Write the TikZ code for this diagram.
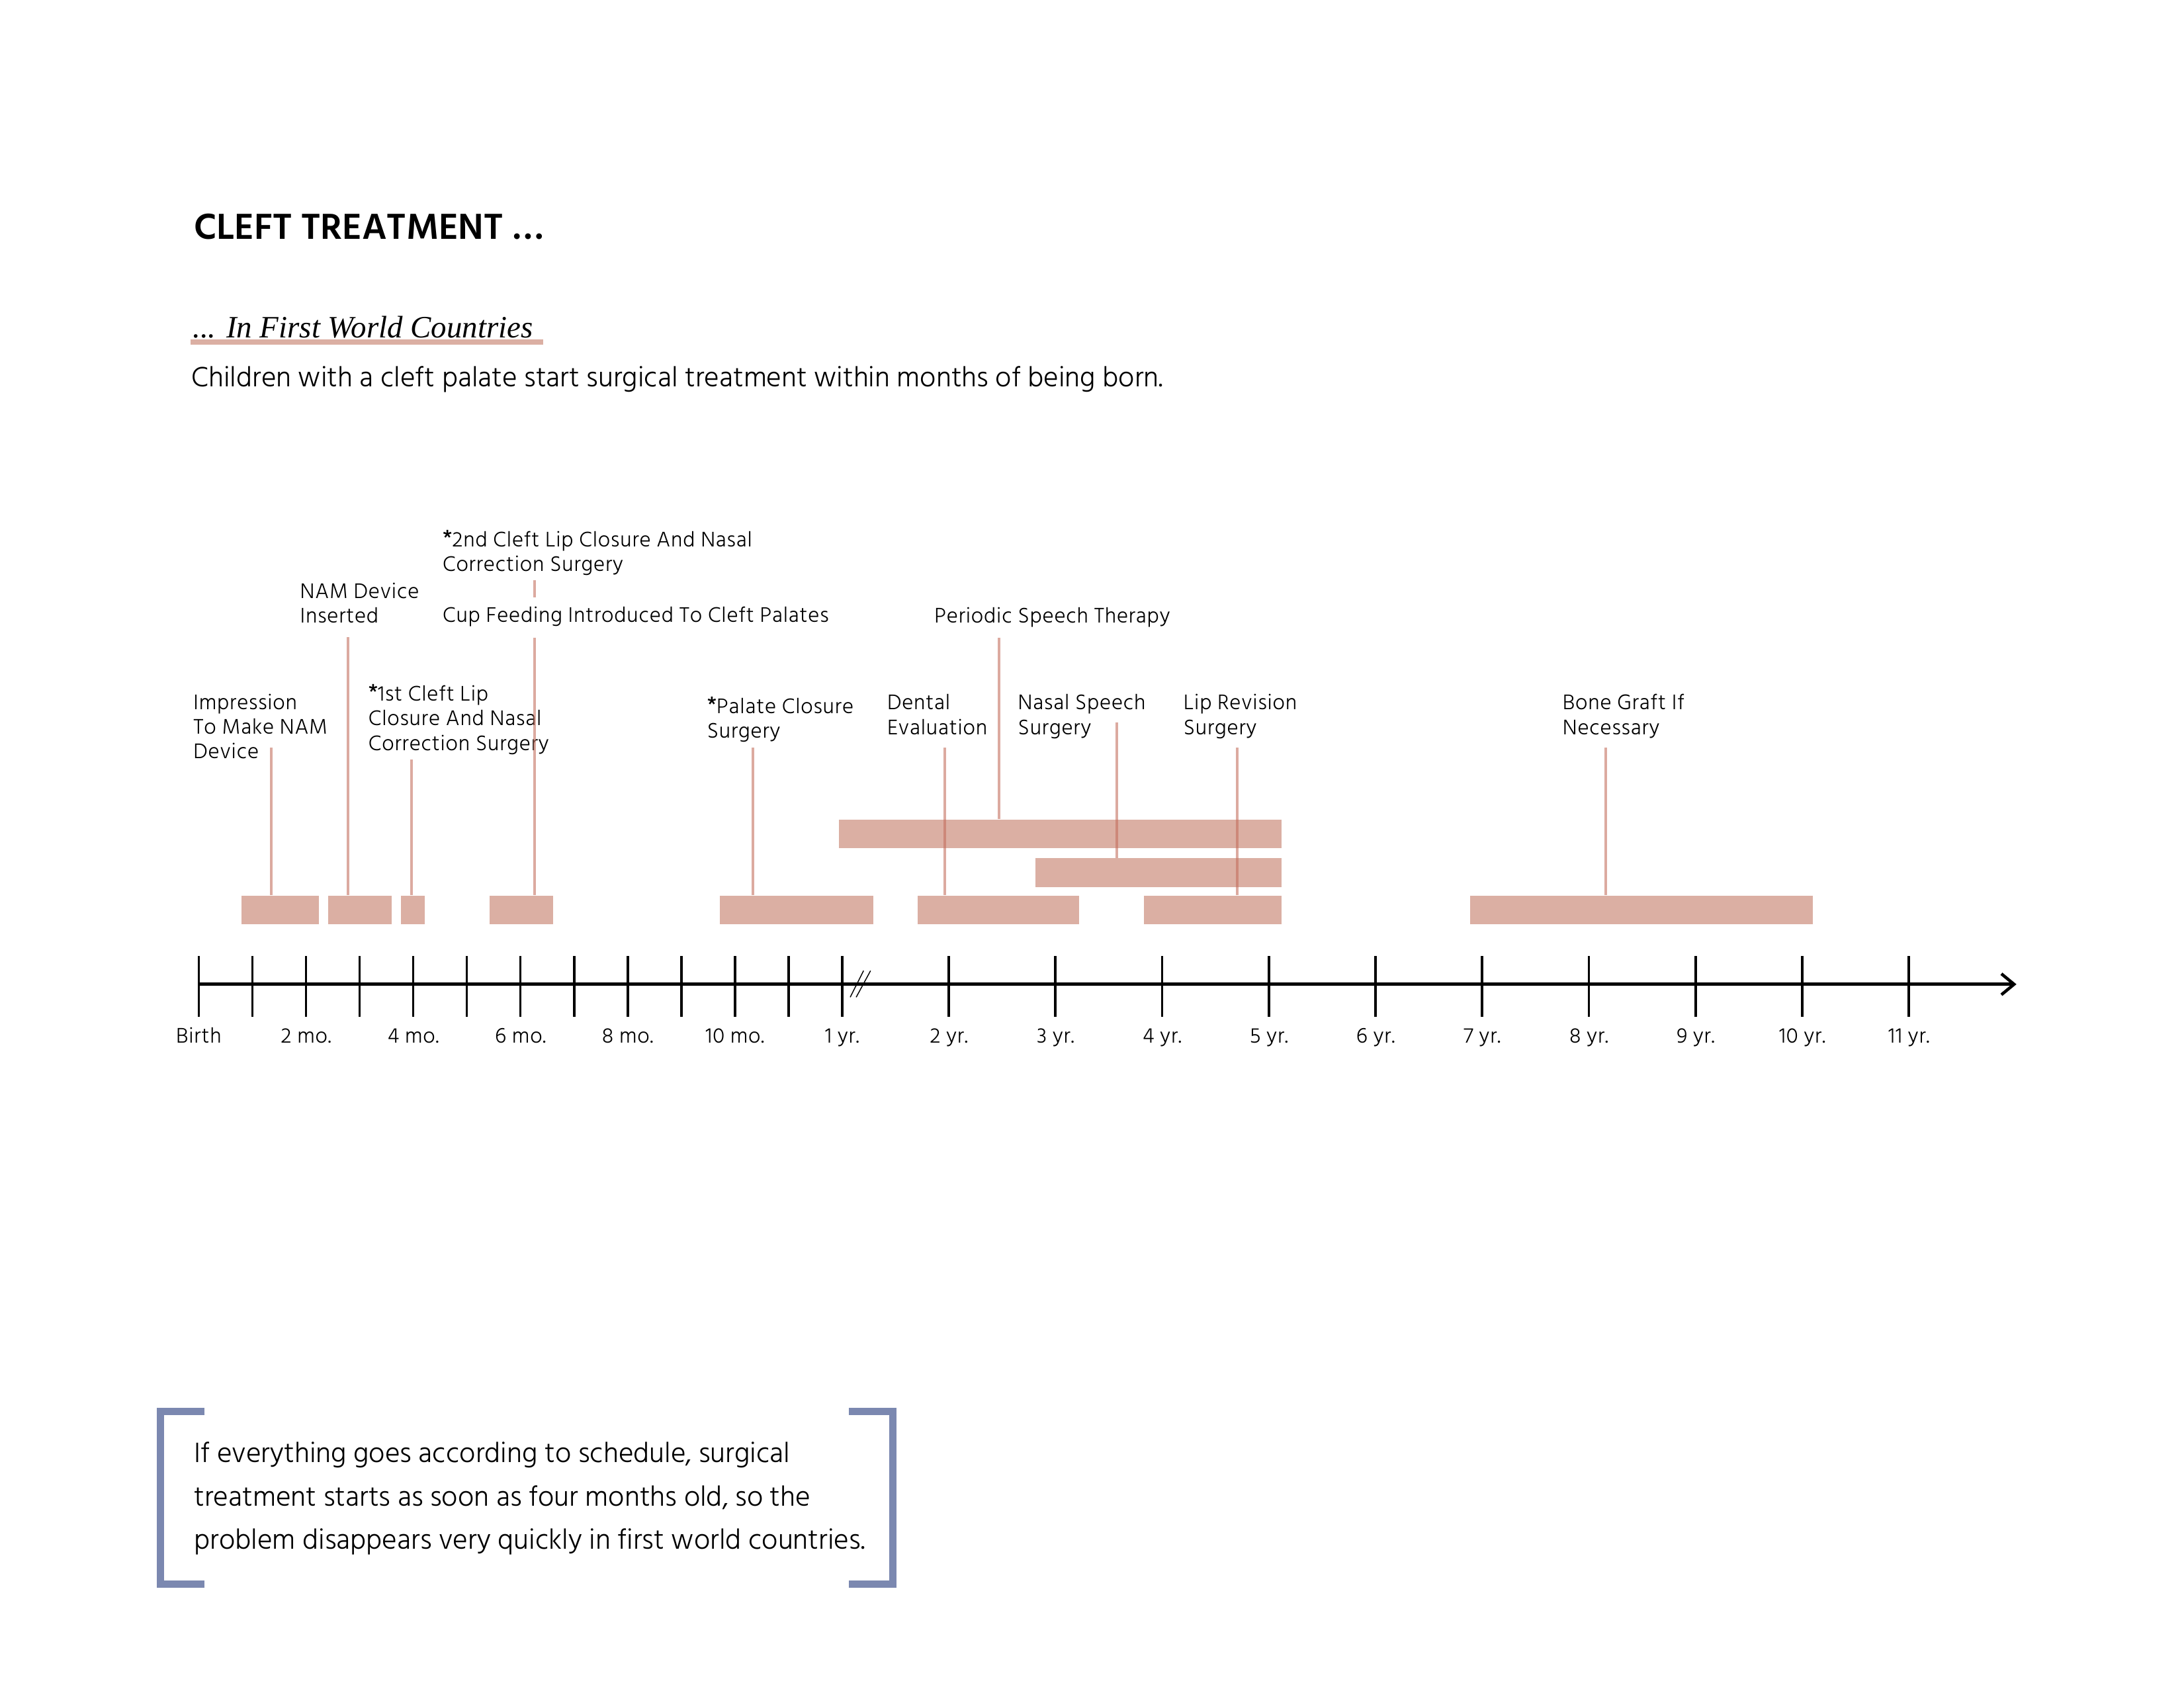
\documentclass[tikz,border=0pt]{standalone}
\usepackage{fontspec}
\IfFontExistsTF{Hind Madurai Light}
  {\setmainfont{Hind Madurai}[UprightFont=* Light,BoldFont=* SemiBold]
   \newfontfamily\labfont{Hind Madurai}[UprightFont=* Light,LetterSpace=2.5]}
  {\setmainfont{Hind Madurai}
   \newfontfamily\labfont{Hind Madurai}[LetterSpace=2]}
\newfontfamily\serifit{Liberation Serif}
\usepackage{tikz}
\usetikzlibrary{arrows.meta,fit}

\definecolor{barpink}{HTML}{DBAFA3}
\definecolor{linkred}{HTML}{C36D5B}
\definecolor{slate}{HTML}{7B88B0}

\newcommand\opstar{\raisebox{0.6bp}{\bfseries*}}
\newcommand\tlbar[4]{\node[bar, fit={(#2,#4) (#3,{#4+20.5})}] (#1) {};}

\begin{document}
\begin{tikzpicture}[x=0.5051bp,y=-0.5051bp,
  bar/.style={fill=barpink,inner sep=0pt},
  link/.style={draw=linkred,draw opacity=0.58,line width=0.95bp},
  tick/.style={line width=0.9bp},
  lab/.style={anchor=base west,align=left,inner sep=0pt,font=\labfont\fontsize{7.9}{9}\selectfont},
  ticklab/.style={anchor=base,inner sep=0pt,font=\labfont\fontsize{7.9}{9}\selectfont}]
  \useasboundingbox (0,0) rectangle (1568,1211);

  \node[anchor=base west,inner sep=0pt,font=\fontsize{13.5}{15}\selectfont\bfseries] (title) at (139,171.8) {CLEFT TREATMENT …};
  \node[anchor=base west,inner sep=0pt,font=\serifit\itshape\fontsize{11.3}{13}\selectfont] (sub) at (138,242.3) {... In First World Countries};
  \draw[barpink,line width=1.8bp] (137,245.6) -- (390,245.6);
  \node[anchor=base west,inner sep=0pt,font=\fontsize{10.43}{12}\selectfont] (intro) at (137.1,277.4) {Children with a cleft palate start surgical treatment within months of being born.};

  % multi-line labels sit on the baseline of their last line
  \node[lab] (lImp) at (138.5,544.8) {Impression\\To Make NAM\\Device};
  \node[lab] (lNam) at (215.1,447.2) {NAM Device\\Inserted};
  \node[lab] (lFirst) at (264.1,538.7) {\opstar1st Cleft Lip\\Closure And Nasal\\Correction Surgery};
  \node[lab] (lSecond) at (317.4,410.2) {\opstar2nd Cleft Lip Closure And Nasal\\Correction Surgery};
  \node[lab] (lCup) at (317.4,446.6) {Cup Feeding Introduced To Cleft Palates};
  \node[lab] (lPal) at (507.3,529.9) {\opstar Palate Closure\\Surgery};
  \node[lab] (lDen) at (636.6,527.3) {Dental\\Evaluation};
  \node[lab] (lPer) at (670.5,447.4) {Periodic Speech Therapy};
  \node[lab] (lNas) at (730.5,527.3) {Nasal Speech\\Surgery};
  \node[lab] (lLip) at (849.3,527.3) {Lip Revision\\Surgery};
  \node[lab] (lBon) at (1121.5,527.3) {Bone Graft If\\Necessary};

  \tlbar{bImp}{173.4}{228.8}{643.2}
  \tlbar{bNam}{235.8}{281.4}{643.2}
  \tlbar{bFirst}{287.9}{304.8}{643.2}
  \tlbar{bCup}{351.5}{397}{643.2}
  \tlbar{bPal}{517}{626.9}{643.2}
  \tlbar{bDen}{659}{774.6}{643.2}
  \tlbar{bLip}{821.5}{919.9}{643.2}
  \tlbar{bBon}{1055.4}{1301.5}{643.2}
  \tlbar{bNas}{743.4}{919.9}{616.3}
  \tlbar{bPer}{602.3}{919.9}{588.3}

  \foreach \c/\x/\y in {Imp/194.6/536.8,Nam/249.7/457.6,First/295.3/545.5,Cup/383.7/457.9,Pal/540.6/536.8,
      Den/678.5/536.8,Per/717.3/457.9,Nas/801.7/518.9,Lip/888.1/536.8,Bon/1152.9/536.8}
    {\coordinate (t\c) at (\x,\y);
     \draw[link] (t\c) -- (t\c |- b\c.north);}
  \coordinate (tCupA) at (383.7,416.4);
  \coordinate (tCupB) at (383.7,428.8);
  \draw[link] (tCupA) -- (tCupB);

  \coordinate (ax0) at (142.7,706.7);
  \coordinate (ax1) at (1447.7,706.7);
  \draw[line width=1.1bp,-{Straight Barb[length=4.6bp,width=7.6bp]}] (ax0) -- (ax1);
  \foreach \m in {0,...,12} \draw[tick] ({142.7+38.49*\m},686.4) -- ++(0,43.6);
  \foreach \n in {2,...,11} \draw[tick] ({604.6+76.59*(\n-1)},686.4) -- ++(0,43.6);
  \draw[line width=0.35bp] (610.4,716) -- (620,697) (614.7,716) -- (625,697);
  \foreach \m/\txt in {0/Birth,2/2 mo.,4/4 mo.,6/6 mo.,8/8 mo.,10/10 mo.}
    \node[ticklab] (mo\m) at ({142.7+38.49*\m},749) {\txt};
  \foreach \n in {1,...,11}
    \node[ticklab] (yr\n) at ({604.6+76.59*(\n-1)},749) {\n{} yr.};

  \draw[slate,line width=2.6bp] (147,1013.5) -| (115.2,1137.2) -- (147,1137.2);
  \draw[slate,line width=2.6bp] (609.6,1013.5) -| (640.9,1137.2) -- (609.6,1137.2);
  \node[anchor=base west,align=left,inner sep=0pt,font=\fontsize{10.45}{15.8}\selectfont] (note) at (139,1112.3)
    {If everything goes according to schedule, surgical\\treatment starts as soon as four months old, so the\\problem disappears very quickly in first world countries.};
\end{tikzpicture}
\end{document}
